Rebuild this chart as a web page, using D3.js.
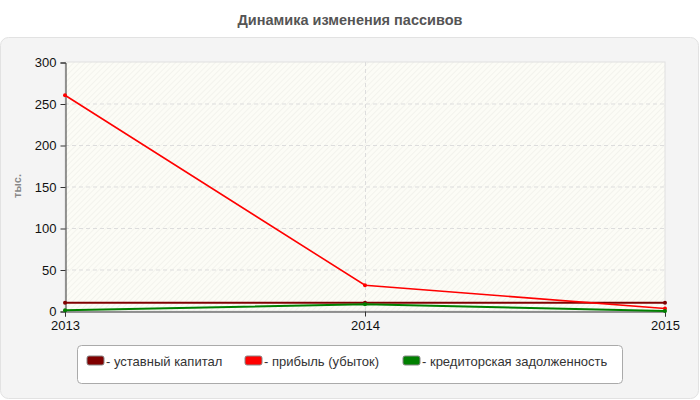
<!DOCTYPE html>
<html>
<head>
<meta charset="utf-8">
<script src="https://cdn.jsdelivr.net/npm/d3@7"></script>
<style>
  body { margin: 0; background: #fff; }
  svg { display: block; font-family: "Liberation Sans", Arial, sans-serif; }
</style>
</head>
<body>
<script>
var years = [2013, 2014, 2015];
var yTicks = [0, 50, 100, 150, 200, 250, 300];
var seriesNames = ["уставный капитал", "прибыль (убыток)", "кредиторская задолженность"];
var seriesColors = ["#800000", "#ff0000", "#008000"];
var capital = [10, 10, 10];
var profit = [260, 31, 3];
var creditors = [1, 8, 0];
var seriesValues = [capital, profit, creditors];

var width = 700, height = 400;
var plot = { left: 65, right: 665, top: 62, bottom: 311 };

var svg = d3.select("body").append("svg")
    .attr("width", width)
    .attr("height", height);

var defs = svg.append("defs");
var hatch = defs.append("pattern")
    .attr("id", "hatch")
    .attr("width", 4)
    .attr("height", 4)
    .attr("patternUnits", "userSpaceOnUse")
    .attr("patternTransform", "rotate(45)");
hatch.append("rect").attr("width", 4).attr("height", 4).attr("fill", "#fcfcf6");
hatch.append("line")
    .attr("x1", 0).attr("y1", 0).attr("x2", 0).attr("y2", 4)
    .attr("stroke", "#f0f0ea").attr("stroke-width", 1.5);

// title
svg.append("text")
    .attr("x", width / 2)
    .attr("y", 25)
    .attr("text-anchor", "middle")
    .attr("font-size", 14.5)
    .attr("font-weight", "bold")
    .attr("fill", "#555")
    .text("Динамика изменения пассивов");

// outer panel
svg.append("rect")
    .attr("x", 0.5).attr("y", 37.5)
    .attr("width", 698).attr("height", 361)
    .attr("rx", 8)
    .attr("fill", "#f4f4f4")
    .attr("stroke", "#e2e2e2");

var x = d3.scaleLinear().domain([2013, 2015]).range([plot.left, plot.right]);
var y = d3.scaleLinear().domain([0, 300]).range([plot.bottom, plot.top]);

// plot background
svg.append("rect")
    .attr("x", plot.left).attr("y", plot.top)
    .attr("width", plot.right - plot.left)
    .attr("height", plot.bottom - plot.top)
    .attr("fill", "url(#hatch)")
    .attr("stroke", "#e0e0e0");

// grid
svg.append("g").selectAll("line")
    .data(yTicks.filter(function (d) { return d > 0 && d < 300; }))
    .join("line")
    .attr("x1", plot.left).attr("x2", plot.right)
    .attr("y1", function (d) { return y(d) + 0.5; })
    .attr("y2", function (d) { return y(d) + 0.5; })
    .attr("stroke", "#ddd")
    .attr("stroke-dasharray", "4,3");

svg.append("line")
    .attr("x1", x(2014) + 0.5).attr("x2", x(2014) + 0.5)
    .attr("y1", plot.top).attr("y2", plot.bottom)
    .attr("stroke", "#ddd")
    .attr("stroke-dasharray", "4,3");

// axes
var yAxis = svg.append("g")
    .attr("transform", "translate(" + (plot.left + 0.5) + ",0.5)")
    .call(d3.axisLeft(y).tickValues(yTicks).tickSize(5).tickPadding(4));
var xAxis = svg.append("g")
    .attr("transform", "translate(0," + (plot.bottom + 0.5) + ")")
    .call(d3.axisBottom(x).tickValues(years).tickFormat(d3.format("d")).tickSize(5).tickPadding(4));

[yAxis, xAxis].forEach(function (ax) {
    ax.select(".domain").attr("stroke", "#333");
    ax.selectAll(".tick line").attr("stroke", "#333");
    ax.selectAll(".tick text")
        .attr("font-size", 13)
        .attr("fill", "#111")
        .attr("font-family", "'Liberation Sans', Arial, sans-serif");
});

svg.append("text")
    .attr("transform", "translate(21,186) rotate(-90)")
    .attr("text-anchor", "middle")
    .attr("font-size", 11)
    .attr("font-weight", "bold")
    .attr("fill", "#888")
    .text("тыс.");

// lines
var line = d3.line()
    .x(function (d, i) { return x(years[i]); })
    .y(function (d) { return y(d); });

seriesValues.forEach(function (vals, k) {
    svg.append("path")
        .datum(vals)
        .attr("d", line)
        .attr("fill", "none")
        .attr("stroke", seriesColors[k])
        .attr("stroke-width", k === 1 ? 1.6 : 2);
    svg.append("g").selectAll("circle")
        .data(vals)
        .join("circle")
        .attr("cx", function (d, i) { return x(years[i]); })
        .attr("cy", function (d) { return y(d); })
        .attr("r", 2)
        .attr("fill", seriesColors[k]);
});

// legend
var legend = svg.append("g");
legend.append("rect")
    .attr("x", 77.5).attr("y", 345.5)
    .attr("width", 545).attr("height", 38)
    .attr("rx", 4)
    .attr("fill", "#fff")
    .attr("stroke", "#aaa");

var legendX = [87, 245, 403];
seriesNames.forEach(function (name, k) {
    var g = legend.append("g").attr("transform", "translate(" + legendX[k] + ",356)");
    g.append("rect")
        .attr("width", 17).attr("height", 9)
        .attr("rx", 2)
        .attr("fill", seriesColors[k])
        .attr("stroke", "#888");
    g.append("text")
        .attr("x", 19).attr("y", 10)
        .attr("font-size", 13)
        .attr("fill", "#333")
        .text("- " + name);
});
</script>
</body>
</html>
